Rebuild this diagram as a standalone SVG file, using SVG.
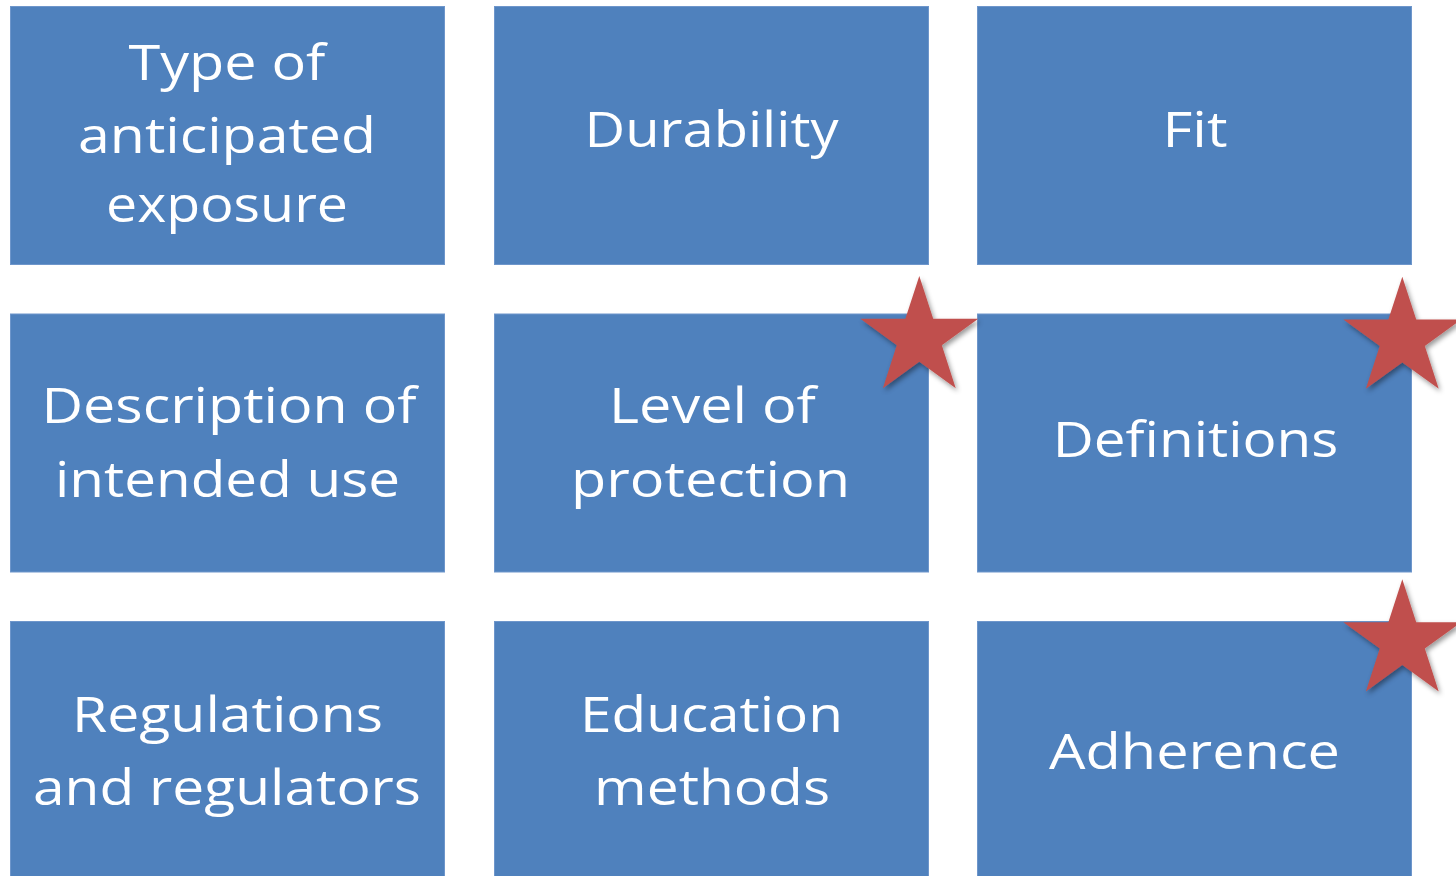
<svg xmlns="http://www.w3.org/2000/svg" width="1456" height="876" viewBox="0 0 1456 876">
  <style>
    .box { fill: #4F81BD; stroke: #6E96CB; stroke-width: 1; }
    .lbl { font-family: "Open Sans", "Noto Sans", "DejaVu Sans", sans-serif; font-size: 49px; fill: #FFFFFF; text-anchor: middle; }
    .star { fill: #C0504D; }
  </style>
  <defs>
    <filter id="shadow" x="-30%" y="-30%" width="160%" height="160%">
      <feDropShadow dx="2" dy="3" stdDeviation="2.5" flood-color="#000000" flood-opacity="0.4"/>
    </filter>
    <path id="starShape" d="M0,-62 L13.93,-19.17 L58.97,-19.16 L22.54,7.32 L36.44,50.16 L0,23.7 L-36.44,50.16 L-22.54,7.32 L-58.97,-19.16 L-13.93,-19.17 Z"/>
  </defs>
  <rect width="1456" height="876" fill="#FFFFFF"/>

  <g id="node-type-of-anticipated-exposure">
    <rect class="box" x="10.5" y="6.5" width="434" height="258"/>
    <text class="lbl" x="227" y="80" textLength="197" lengthAdjust="spacingAndGlyphs">Type of</text>
    <text class="lbl" x="227" y="153.3" textLength="298" lengthAdjust="spacingAndGlyphs">anticipated</text>
    <text class="lbl" x="227" y="221.5" textLength="242" lengthAdjust="spacingAndGlyphs">exposure</text>
  </g>
  <g id="node-durability">
    <rect class="box" x="494.5" y="6.5" width="434" height="258"/>
    <text class="lbl" x="711.5" y="147.3" textLength="254" lengthAdjust="spacingAndGlyphs">Durability</text>
  </g>
  <g id="node-fit">
    <rect class="box" x="977.5" y="6.5" width="434" height="258"/>
    <text class="lbl" x="1195" y="147.3" textLength="65" lengthAdjust="spacingAndGlyphs">Fit</text>
  </g>

  <g id="node-description-of-intended-use">
    <rect class="box" x="10.5" y="314" width="434" height="258"/>
    <text class="lbl" x="229" y="423.3" textLength="375" lengthAdjust="spacingAndGlyphs">Description of</text>
    <text class="lbl" x="227.5" y="496.7" textLength="345" lengthAdjust="spacingAndGlyphs">intended use</text>
  </g>
  <g id="node-level-of-protection">
    <rect class="box" x="494.5" y="314" width="434" height="258"/>
    <text class="lbl" x="712.5" y="423.3" textLength="207" lengthAdjust="spacingAndGlyphs">Level of</text>
    <text class="lbl" x="710.5" y="496.7" textLength="279" lengthAdjust="spacingAndGlyphs">protection</text>
  </g>
  <g id="node-definitions">
    <rect class="box" x="977.5" y="314" width="434" height="258"/>
    <text class="lbl" x="1195.5" y="456.7" textLength="285.6" lengthAdjust="spacingAndGlyphs">Definitions</text>
  </g>

  <g id="node-regulations-and-regulators">
    <rect class="box" x="10.5" y="621.5" width="434" height="260"/>
    <text class="lbl" x="227.5" y="731.7" textLength="311" lengthAdjust="spacingAndGlyphs">Regulations</text>
    <text class="lbl" x="227" y="805" textLength="388" lengthAdjust="spacingAndGlyphs">and regulators</text>
  </g>
  <g id="node-education-methods">
    <rect class="box" x="494.5" y="621.5" width="434" height="260"/>
    <text class="lbl" x="711.5" y="731.7" textLength="263" lengthAdjust="spacingAndGlyphs">Education</text>
    <text class="lbl" x="712" y="805" textLength="236" lengthAdjust="spacingAndGlyphs">methods</text>
  </g>
  <g id="node-adherence">
    <rect class="box" x="977.5" y="621.5" width="434" height="260"/>
    <text class="lbl" x="1194.5" y="769" textLength="291" lengthAdjust="spacingAndGlyphs">Adherence</text>
  </g>

  <g id="connectors"></g>

  <g id="stars" filter="url(#shadow)">
    <use class="star" href="#starShape" transform="translate(919.3,338)"/>
    <use class="star" href="#starShape" transform="translate(1402.3,338.7)"/>
    <use class="star" href="#starShape" transform="translate(1402.3,641.3)"/>
  </g>
</svg>
